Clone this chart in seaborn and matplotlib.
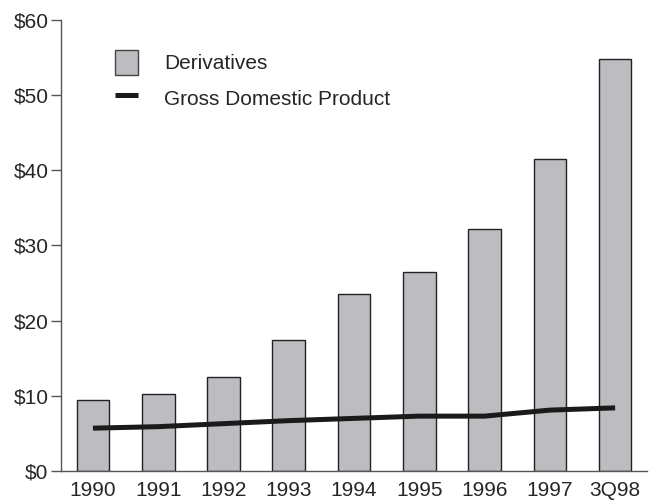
import numpy as np
import pandas as pd
import seaborn as sns
import matplotlib.pyplot as plt
from matplotlib.patches import Patch
from matplotlib.lines import Line2D

# values (trillions of dollars)
years = ["1990", "1991", "1992", "1993", "1994", "1995", "1996", "1997", "3Q98"]
derivatives = [9.5, 10.3, 12.5, 17.4, 23.5, 26.5, 32.2, 41.5, 54.8]
gdp = [5.7, 5.9, 6.3, 6.7, 7.0, 7.3, 7.3, 8.1, 8.4]
yticks = [0, 10, 20, 30, 40, 50, 60]

sns.set_style("white")
plt.rcParams['font.family'] = ['Liberation Sans', 'DejaVu Sans']

df = pd.DataFrame({"year": years, "derivatives": derivatives, "gdp": gdp})

fig = plt.figure(figsize=(6.53, 5), dpi=100)
ax = fig.add_axes([0.0934, 0.058, 0.8976, 0.902])

sns.barplot(data=df, x="year", y="derivatives", color="#bcbcc1",
            edgecolor="#222222", linewidth=1.0, width=0.5, saturation=1, ax=ax)
sns.lineplot(x=np.arange(len(years)), y=df["gdp"], color="#1a1a1a",
             linewidth=3.6, solid_capstyle="butt", ax=ax)

ax.set_xlim(-0.49, len(years) - 0.51)
ax.set_ylim(0, 60)
ax.set_yticks(yticks)
ax.set_yticklabels([f"${v}" for v in yticks])
ax.set_xlabel("")
ax.set_ylabel("")

for side in ["top", "right"]:
    ax.spines[side].set_visible(False)
for side in ["left", "bottom"]:
    ax.spines[side].set_color("#555555")
    ax.spines[side].set_linewidth(1.0)

ax.tick_params(axis="y", left=True, length=7, width=1, color="#555555",
               labelsize=15, pad=2)
ax.tick_params(axis="x", bottom=False, labelsize=15, pad=4)

handles = [Patch(facecolor="#bcbcc1", edgecolor="#444444", linewidth=1.0),
           Line2D([0], [0], color="#1a1a1a", linewidth=3.6, solid_capstyle="butt")]
ax.legend(handles, ["Derivatives", "Gross Domestic Product"], frameon=False,
          loc="upper left", bbox_to_anchor=(0.061, 0.976), fontsize=15,
          handlelength=1.1, handleheight=1.5, handletextpad=1.25, labelspacing=0.48)

fig.savefig("out.png", dpi=100)
